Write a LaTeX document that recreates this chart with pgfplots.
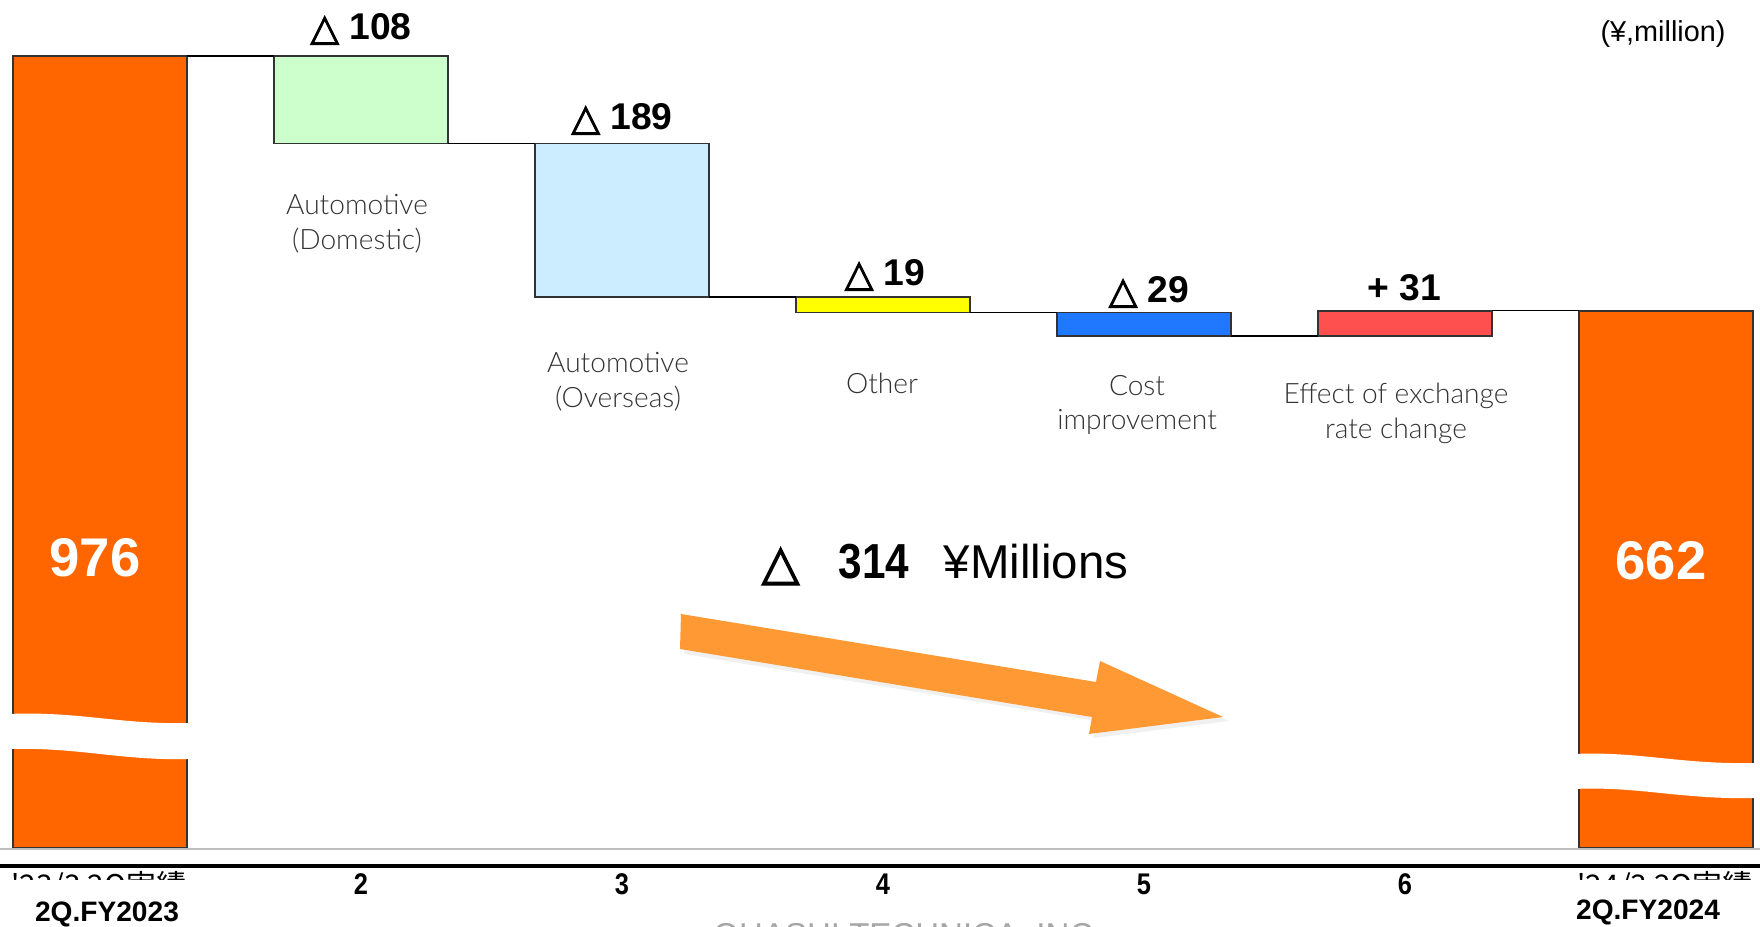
\documentclass[border=0pt]{standalone}
\usepackage{pgfplots}
\pgfplotsset{compat=1.18}
\usepackage{fontspec}
\setmainfont{Liberation Sans}
\newfontfamily\dejavu{DejaVu Sans}[FakeBold=2.5]
\newfontfamily\lightfont{Lato Light}
\newfontfamily\cjk{Noto Sans CJK JP}
\definecolor{barorange}{HTML}{FF6600}
\definecolor{bgreen}{HTML}{CCFFCC}
\definecolor{blblue}{HTML}{CCECFF}
\definecolor{byellow}{HTML}{FFFF00}
\definecolor{bblue}{HTML}{1F78FF}
\definecolor{bred}{HTML}{FF5050}
\definecolor{arroworange}{HTML}{FF9933}
\definecolor{labgray}{HTML}{333333}
\newcommand{\tri}{{\dejavu △}}
\begin{document}
\begin{tikzpicture}
\begin{axis}[
  at={(0,0)}, anchor=south west,
  scale only axis, width=176mm, height=84.8mm,
  xmin=0.617, xmax=7.360, ymin=0, ymax=1045,
  clip=false,
  axis line style={draw=none},
  tick style={draw=none},
  ytick=\empty,
  xtick={2,3,4,5,6},
  xticklabels={2,3,4,5,6},
  xticklabel style={anchor=base, yshift=-4.7mm, font=\bfseries\fontsize{8.5}{10}\selectfont, xscale=0.85},
]
% bars (x from centre-0.333 to centre+0.333, y from low to high)
\addplot[fill=barorange, draw=black!80, line width=0.45pt] coordinates {(0.667,0) (1.333,0) (1.333,976) (0.667,976)} -- cycle;
\addplot[fill=bgreen, draw=black!80, line width=0.45pt] coordinates {(1.667,868) (2.333,868) (2.333,976) (1.667,976)} -- cycle;
\addplot[fill=blblue, draw=black!80, line width=0.45pt] coordinates {(2.667,679) (3.333,679) (3.333,868) (2.667,868)} -- cycle;
\addplot[fill=byellow, draw=black!80, line width=0.45pt] coordinates {(3.667,660) (4.333,660) (4.333,679) (3.667,679)} -- cycle;
\addplot[fill=bblue, draw=black!80, line width=0.45pt] coordinates {(4.667,631) (5.333,631) (5.333,660) (4.667,660)} -- cycle;
\addplot[fill=bred, draw=black!80, line width=0.45pt] coordinates {(5.667,631) (6.333,631) (6.333,662) (5.667,662)} -- cycle;
\addplot[fill=barorange, draw=black!80, line width=0.45pt] coordinates {(6.667,0) (7.333,0) (7.333,662) (6.667,662)} -- cycle;
% connectors
\addplot[black, line width=0.4pt] coordinates {(1.333,976) (1.667,976)};
\addplot[black, line width=0.4pt] coordinates {(2.333,868) (2.667,868)};
\addplot[black, line width=0.4pt] coordinates {(3.333,679) (3.667,679)};
\addplot[black, line width=0.4pt] coordinates {(4.333,660) (4.667,660)};
\addplot[black, line width=0.4pt] coordinates {(5.333,631) (5.667,631)};
\addplot[black, line width=0.4pt] coordinates {(6.333,662) (6.667,662)};
\end{axis}
\begin{scope}[x=0.1mm, y=-0.1mm, shift={(0,84.8mm)}]
  % break bands
  \fill[white] (8,714) .. controls (80,711) and (120,725) .. (192,723) -- (192,759) .. controls (120,761) and (80,747) .. (8,749) -- cycle;
  \fill[white] (1574,754) .. controls (1640,751) and (1680,765) .. (1760,763) -- (1760,798) .. controls (1680,800) and (1640,786) .. (1574,789) -- cycle;
  % baselines
  \draw[black!25, line width=0.6pt] (0,849) -- (1760,849);
  \draw[black, line width=0.9pt] (0,866) -- (1760,866);
  % arrow shadow and arrow
  \fill[black!6] (685,619) -- (1100,687) -- (1104,666) -- (1229,721) -- (1093,738) -- (1096,721) -- (684,654) -- cycle;
  \fill[arroworange] (681,614) -- (1096,682) -- (1100,661) -- (1223,717) -- (1089,734) -- (1092,717) -- (680,649) -- cycle;
  % delta labels
  \node[anchor=base, font=\bfseries\fontsize{10.6}{12}\selectfont] at (361,40) {\tri\ 108};
  \node[anchor=base, font=\bfseries\fontsize{10.6}{12}\selectfont] at (622,130) {\tri\ 189};
  \node[anchor=base, font=\bfseries\fontsize{10.6}{12}\selectfont] at (885,286) {\tri\ 19};
  \node[anchor=base, font=\bfseries\fontsize{10.6}{12}\selectfont] at (1149,303) {\tri\ 29};
  \node[anchor=base, font=\bfseries\fontsize{10.6}{12}\selectfont] at (1404,301) {+ 31};
  % category labels
  \begin{scope}[every node/.style={align=center, text=labgray, font=\lightfont\fontsize{8}{9.9}\selectfont}]
    \node at (357,224) {Automotive\\(Domestic)};
    \node at (618,382) {Automotive\\(Overseas)};
    \node at (882,383) {Other};
    \node at (1137,405) {Cost\\improvement};
    \node at (1396,413) {Effect of exchange\\rate change};
  \end{scope}
  % totals
  \node[text=white, font=\bfseries\fontsize{15.5}{18}\selectfont] at (95,558) {976};
  \node[text=white, font=\bfseries\fontsize{15.5}{18}\selectfont] at (1661,561) {662};
  % summary
  \node[anchor=base west, inner sep=0pt, font=\fontsize{14}{16}\selectfont] at (761,579) {\tri};
  \node[anchor=base west, inner sep=0pt, xscale=0.86, font=\bfseries\fontsize{14}{16}\selectfont] at (838,579) {314};
  \node[anchor=base west, inner sep=0pt, font=\fontsize{13.5}{16}\selectfont] at (943,579) {¥Millions};
  % unit
  \node[font=\fontsize{8.2}{10}\selectfont] at (1663,34) {(¥,million)};
  % period labels (partly hidden)
  \node[anchor=north, inner sep=0pt, font=\cjk\fontsize{8.5}{10}\selectfont] at (99,871) {'23/3 2Q実績};
  \node[anchor=north, inner sep=0pt, font=\cjk\fontsize{8.5}{10}\selectfont] at (1665,871) {'24/3 2Q実績};
  \fill[white] (0,880) rectangle (230,930);
  \fill[white] (1540,880) rectangle (1760,930);
  \node[anchor=base, inner sep=0pt, font=\bfseries\fontsize{8}{10}\selectfont] at (107,921) {2Q.FY2023};
  \node[anchor=base, inner sep=0pt, font=\bfseries\fontsize{8}{10}\selectfont] at (1648,919) {2Q.FY2024};
  % footer (mostly outside the page, as in the reference)
  \node[anchor=base, inner sep=0pt, text=black!35, font=\fontsize{9.4}{11}\selectfont] at (908,946) {OHASHI TECHNICA, INC.};
  \pgfresetboundingbox
  \useasboundingbox (0,0) rectangle (1760,926);
\end{scope}
\end{tikzpicture}
\end{document}
